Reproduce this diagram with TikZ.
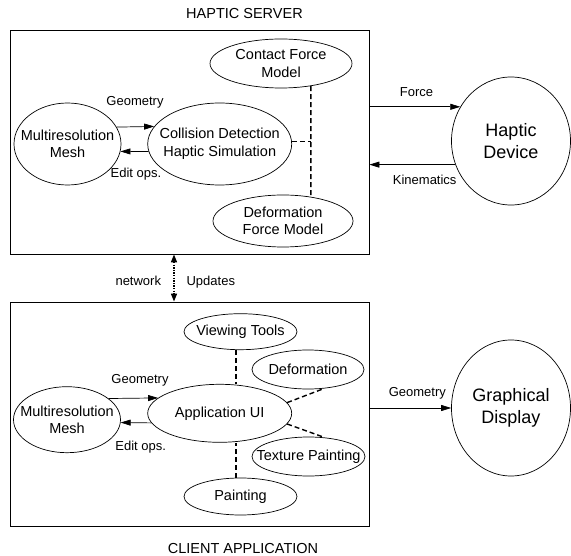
\documentclass[tikz,border=0pt]{standalone}
\usepackage{fontspec}
\setmainfont{Liberation Sans}
\usetikzlibrary{shapes.geometric,arrows.meta}
\tikzset{
  box/.style={draw, line width=0.8pt, inner sep=0pt},
  oval/.style={draw, ellipse, line width=0.7pt, inner sep=0pt},
  ovt/.style={inner sep=0pt, align=center, font=\fontsize{14.5}{17.5}\selectfont},
  bigt/.style={inner sep=0pt, align=center, font=\fontsize{18}{22}\selectfont},
  lbl/.style={anchor=base, inner sep=0pt, font=\fontsize{13}{15}\selectfont},
  ttl/.style={anchor=base, inner sep=0pt, font=\fontsize{14.5}{17}\selectfont},
  arr/.style={line width=0.7pt, -{Triangle[length=10pt,width=6pt]}},
  dline/.style={line width=1.4pt, dash pattern=on 5pt off 3pt},
  netarr/.style={line width=1.5pt, dash pattern=on 1.3pt off 1.3pt,
    {Triangle[length=8pt,width=6pt]}-{Triangle[length=8pt,width=6pt]}}
}
\begin{document}
\begin{tikzpicture}[x=1pt,y=-1pt]
\useasboundingbox (0,0) rectangle (571,556);
% boxes
\node[box, minimum width=359pt, minimum height=224pt] (server) at (189.5,142) {};
\node[box, minimum width=359pt, minimum height=224pt] (client) at (189.5,414) {};
\node[ttl] (t1) at (244.5,18.3) {HAPTIC SERVER};
\node[ttl] (t2) at (243,553.3) {CLIENT APPLICATION};
% server nodes
\node[oval, minimum width=107pt, minimum height=82pt, label={[ovt]center:Multiresolution\\Mesh}] (mesh1) at (67.5,144) {};
\node[oval, minimum width=144pt, minimum height=82pt, label={[ovt]center:Collision Detection\\Haptic Simulation}] (coll) at (219.7,144) {};
\node[oval, minimum width=142pt, minimum height=49pt, label={[ovt]center:Contact Force\\Model}] (contact) at (281,63.5) {};
\node[oval, minimum width=140pt, minimum height=52pt, label={[ovt]center:Deformation\\Force Model}] (deform) at (283,221) {};
\node[oval, minimum width=119pt, minimum height=128pt, label={[bigt]center:Haptic\\Device}] (hd) at (511,141) {};
% server connectors
\draw[arr] (mesh1.19.2) -- (coll.165.5);
\draw[arr] (coll.186.5) -- (mesh1.-8.7);
\node[lbl] (g1) at (135,106) {Geometry};
\node[lbl] (e1) at (136,178) {Edit ops.};
\draw[dline] (contact.-37.7) -- (deform.41.6);
\draw[dline] (coll.2.4) -- (coll.2.4 -| contact.-37.7);
\draw[arr] (server.east |- hd.146.8) -- (hd.146.8);
\draw[arr] (hd.203.5) -- (hd.203.5 -| server.east);
\node[lbl] (f1) at (416.5,96.7) {Force};
\node[lbl] (k1) at (424.7,185) {Kinematics};
% network
\draw[netarr] ([xshift=-15.5pt]server.south) -- ([xshift=-15.5pt]client.north);
\node[lbl] (n1) at (138.3,286) {network};
\node[lbl] (u1) at (210.8,286) {Updates};
% client nodes
\node[oval, minimum width=107pt, minimum height=66pt, label={[ovt]center:Multiresolution\\Mesh}] (mesh2) at (67,419.7) {};
\node[oval, minimum width=144pt, minimum height=58pt, label={[ovt]center:Application UI}] (app) at (219.7,413.3) {};
\node[oval, minimum width=113pt, minimum height=36pt, label={[ovt]center:Viewing Tools}] (view) at (240.5,331.7) {};
\node[oval, minimum width=112pt, minimum height=39pt, label={[ovt]center:Deformation}] (defo) at (308,369.5) {};
\node[oval, minimum width=113pt, minimum height=39pt, label={[ovt]center:Texture Painting}] (tex) at (308.5,456.5) {};
\node[oval, minimum width=113pt, minimum height=37pt, label={[ovt]center:Painting}] (paint) at (240.5,496.5) {};
\node[oval, minimum width=119pt, minimum height=136pt, label={[bigt]center:Graphical\\Display}] (gd) at (511,408) {};
% client connectors
\draw[arr] (mesh2.27.7) -- (app.166.3);
\draw[arr] (app.188.4) -- (mesh2.-3.9);
\node[lbl] (g2) at (140,383.3) {Geometry};
\node[lbl] (e2) at (140.7,450.7) {Edit ops.};
\draw[dline] (view.256) -- (view.256 |- app.north);
\draw[dline] (paint.104) -- (paint.104 |- app.south);
\draw[dline] (app.9.8) -- (defo.-50.9);
\draw[dline] (app.-9.1) -- (tex.50.9);
\draw[arr] (client.east |- gd.west) -- (gd.west);
\node[lbl] (g3) at (417.3,396.7) {Geometry};
\end{tikzpicture}
\end{document}
